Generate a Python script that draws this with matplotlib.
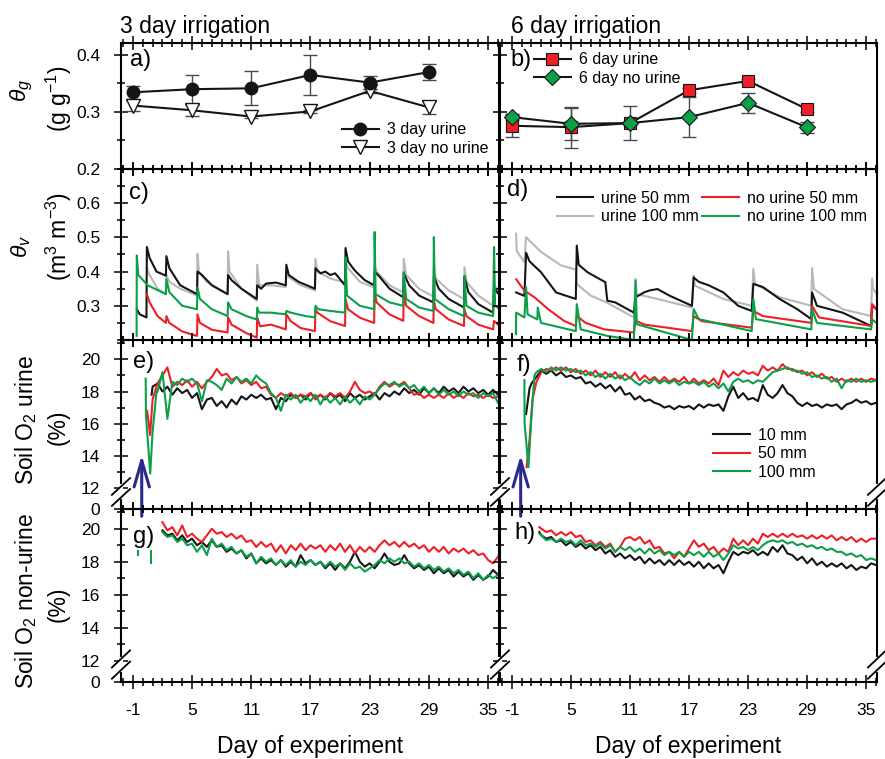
import numpy as np
import matplotlib
matplotlib.use("Agg")
import matplotlib.pyplot as plt
import matplotlib.transforms as mtransforms
from matplotlib.ticker import MultipleLocator

# ---- data: gravimetric water content (panels a, b) -----------------------
sample_days = [-1, 5, 11, 17, 23, 29]

urine_3d = [0.3345, 0.340, 0.3415, 0.365, 0.3515, 0.370]
urine_3d_err = [0.011, 0.0255, 0.030, 0.0355, 0.012, 0.014]
nourine_3d = [0.3113, 0.303, 0.292, 0.301, 0.337, 0.308]
nourine_3d_err = [0.010, 0.010, 0.003, 0.003, 0.003, 0.011]

urine_6d = [0.2758, 0.2734, 0.2805, 0.338, 0.3545, 0.305]
urine_6d_err = [0.020, 0.036, 0.004, 0.004, 0.004, 0.005]
nourine_6d = [0.291, 0.2793, 0.2805, 0.291, 0.316, 0.273]
nourine_6d_err = [0.005, 0.028, 0.030, 0.0355, 0.017, 0.009]

# ---- data: volumetric water content (panels c, d) ------------------------
c_urine50_days = [-0.6, -0.3, 0.38, 0.42, 0.7, 1.4, 2.35, 2.4, 2.7, 3.8, 5.5,
                  5.55, 6.0, 7.0, 8.6, 8.65, 9.0, 10.0, 11.55, 11.6, 12.0, 12.5,
                  13.5, 14.5, 14.55, 14.8, 15.8, 17.45, 17.5, 18.0, 18.5, 19.0,
                  19.5, 20.5, 20.55, 20.8, 21.3, 21.6, 22.5, 23.45, 23.5, 24.0,
                  25.0, 26.4, 26.45, 27.0, 28.0, 29.45, 29.5, 30.0, 31.0, 32.55,
                  32.6, 33.0, 34.0, 35.5, 35.6, 36.2]
c_urine50 = [0.29, 0.275, 0.266, 0.472, 0.44, 0.40, 0.388, 0.445, 0.41, 0.36, 0.334,
             0.40, 0.39, 0.36, 0.334, 0.39, 0.375, 0.35, 0.32, 0.36, 0.35, 0.365,
             0.368, 0.36, 0.42, 0.39, 0.37, 0.35, 0.41, 0.395, 0.40, 0.39,
             0.395, 0.36, 0.469, 0.43, 0.41, 0.40, 0.375, 0.36, 0.40, 0.385,
             0.35, 0.325, 0.395, 0.36, 0.33, 0.31, 0.385, 0.35, 0.32, 0.295,
             0.385, 0.34, 0.305, 0.28, 0.35, 0.33]

c_urine100_days = [0.42, 0.7, 1.5, 2.35, 2.4, 2.7, 3.8, 5.5, 5.55, 5.7, 6.5, 8.6,
                   8.65, 8.8, 10.0, 11.55, 11.6, 11.8, 13.0, 14.5, 14.55, 15.0,
                   16.0, 17.45, 17.5, 17.7, 19.0, 20.5, 20.55, 20.8, 22.0, 23.45,
                   23.5, 23.7, 25.0, 26.4, 26.45, 26.7, 28.0, 29.45, 29.5, 29.7,
                   31.0, 32.55, 32.6, 32.8, 34.0, 35.5, 35.6, 36.2]
c_urine100 = [0.41, 0.39, 0.35, 0.334, 0.39, 0.37, 0.35, 0.33, 0.452, 0.40, 0.37, 0.334,
              0.459, 0.40, 0.35, 0.315, 0.42, 0.36, 0.36, 0.355, 0.39, 0.38,
              0.36, 0.345, 0.437, 0.40, 0.38, 0.368, 0.43, 0.41, 0.37, 0.354,
              0.418, 0.40, 0.36, 0.339, 0.437, 0.39, 0.35, 0.327, 0.418, 0.38,
              0.345, 0.32, 0.413, 0.37, 0.33, 0.30, 0.36, 0.34]

c_nourine50_days = [0.42, 0.7, 1.5, 2.35, 2.4, 2.7, 4.0, 5.5, 5.55, 5.8, 7.0, 8.6,
                    8.65, 9.0, 10.5, 11.55, 11.6, 11.9, 13.0, 14.5, 14.55, 15.0,
                    16.0, 17.45, 17.5, 17.7, 19.0, 20.5, 20.55, 20.8, 22.0, 23.45,
                    23.5, 23.7, 25.0, 26.4, 26.45, 26.7, 28.0, 29.45, 29.5, 29.7,
                    31.0, 32.55, 32.6, 32.8, 34.0, 35.5, 35.6, 36.2]
c_nourine50 = [0.334, 0.31, 0.27, 0.25, 0.27, 0.25, 0.225, 0.212, 0.275, 0.25, 0.23, 0.222,
               0.266, 0.245, 0.22, 0.207, 0.266, 0.24, 0.245, 0.231, 0.275, 0.255,
               0.235, 0.226, 0.29, 0.28, 0.255, 0.241, 0.32, 0.29, 0.265, 0.25,
               0.344, 0.31, 0.275, 0.256, 0.339, 0.30, 0.27, 0.25, 0.315, 0.29,
               0.26, 0.241, 0.29, 0.27, 0.245, 0.231, 0.256, 0.24]

c_nourine100_days = [-0.62, -0.6, -0.45, 0.5, 2.35, 2.4, 2.7, 4.0, 5.5, 5.55, 5.8,
                     7.0, 8.6, 8.65, 9.0, 10.5, 11.55, 11.6, 11.8, 13.0, 14.5,
                     14.55, 15.0, 16.5, 17.45, 17.5, 17.8, 19.0, 20.5, 20.55, 20.7,
                     22.0, 23.45, 23.5, 23.6, 25.0, 26.4, 26.45, 26.7, 28.0, 29.45,
                     29.5, 29.6, 31.0, 32.55, 32.6, 32.8, 34.0, 35.5, 35.6, 35.7, 36.2]
c_nourine100 = [0.212, 0.447, 0.39, 0.36, 0.334, 0.378, 0.34, 0.30, 0.29, 0.354, 0.32,
                0.29, 0.27, 0.31, 0.29, 0.27, 0.26, 0.295, 0.28, 0.28, 0.275,
                0.285, 0.28, 0.27, 0.266, 0.30, 0.29, 0.285, 0.28, 0.442, 0.33,
                0.30, 0.29, 0.516, 0.334, 0.31, 0.30, 0.398, 0.32, 0.295, 0.285,
                0.501, 0.32, 0.29, 0.27, 0.388, 0.30, 0.28, 0.27, 0.472, 0.30, 0.29]

d_urine50_days = [-0.56, 0.28, 0.45, 0.8, 1.97, 3.5, 5.5, 5.6, 5.8, 6.7, 8.5, 8.7,
                  9.5, 11.4, 11.57, 12.5, 13.0, 13.8, 15.0, 17.3, 17.47, 18.0,
                  19.0, 20.5, 22.0, 23.37, 23.54, 24.5, 26.2, 28.0, 29.43, 29.5,
                  30.0, 32.6, 35.5, 35.6, 36.05]
d_urine50 = [0.339, 0.329, 0.455, 0.43, 0.398, 0.339, 0.32, 0.476, 0.42, 0.398, 0.369, 0.315,
             0.31, 0.28, 0.325, 0.34, 0.345, 0.349, 0.33, 0.30, 0.383, 0.37,
             0.36, 0.339, 0.30, 0.285, 0.364, 0.355, 0.32, 0.29, 0.261, 0.339,
             0.30, 0.28, 0.241, 0.30, 0.29]

d_urine100_days = [-0.56, -0.5, 0.28, 0.45, 0.8, 2.0, 4.0, 5.5, 5.6, 7.0, 8.6, 11.4,
                   11.57, 11.7, 13.8, 17.3, 17.47, 17.6, 20.5, 23.37, 23.54, 23.7,
                   26.2, 29.43, 29.5, 29.7, 32.6, 35.5, 35.6, 35.7, 36.05]
d_urine100 = [0.511, 0.46, 0.427, 0.501, 0.49, 0.457, 0.418, 0.406, 0.364, 0.33, 0.31, 0.266,
              0.378, 0.334, 0.32, 0.295, 0.388, 0.359, 0.32, 0.30, 0.408, 0.364,
              0.325, 0.30, 0.41, 0.349, 0.29, 0.27, 0.38, 0.35, 0.335]

d_nourine50_days = [-0.56, 0.28, 1.3, 2.7, 4.3, 5.5, 5.6, 6.5, 8.4, 11.4, 11.57, 12.5,
                    17.3, 17.47, 18.3, 23.37, 23.54, 24.5, 29.43, 29.5, 30.2, 35.5,
                    35.6, 36.05]
d_nourine50 = [0.378, 0.344, 0.325, 0.29, 0.256, 0.241, 0.27, 0.25, 0.231, 0.222, 0.256, 0.245,
               0.226, 0.27, 0.255, 0.236, 0.285, 0.27, 0.25, 0.30, 0.266, 0.241,
               0.305, 0.29]

d_nourine100_days = [-0.58, -0.56, 0.28, 0.45, 0.6, 1.6, 1.63, 1.97, 5.5, 5.6, 6.0,
                     8.7, 11.4, 11.57, 11.7, 17.3, 17.47, 18.0, 23.37, 23.54, 23.8,
                     29.43, 29.5, 30.0, 35.5, 35.6, 36.05]
d_nourine100 = [0.217, 0.28, 0.266, 0.354, 0.275, 0.26, 0.295, 0.25, 0.226, 0.305, 0.231,
                0.212, 0.20, 0.373, 0.246, 0.20, 0.29, 0.261, 0.226, 0.32, 0.261,
                0.231, 0.29, 0.25, 0.231, 0.26, 0.25]

# ---- data: soil O2 (panels e-h), half-day readings ------------------------
# urine, 3 day irrigation (e)
e_10mm_start, e_10mm_pre_days, e_10mm_pre = 1.0, [0.9], [17.8]
e_10mm = [18.3, 18.5, 18.0, 18.3, 17.8, 18.2, 17.9, 18.1, 17.6, 17.9,
          16.9, 17.5, 17.6, 17.1, 17.4, 17.0, 17.5, 17.2, 17.7, 17.5,
          17.8, 17.6, 17.8, 17.5, 17.6, 16.9, 17.6, 17.4, 17.8, 17.6,
          17.8, 17.5, 17.9, 17.6, 17.8, 17.5, 17.9, 17.6, 17.8, 17.4,
          17.9, 17.6, 17.8, 17.5, 17.7, 17.9, 17.5, 17.9, 17.7, 18.0,
          17.8, 18.2, 17.9, 18.1, 17.8, 18.2, 17.9, 18.2, 17.9, 18.3,
          18.0, 18.2, 17.9, 18.3, 18.0, 18.2, 17.9, 18.1, 17.8, 18.1,
          17.8]
e_50mm_start, e_50mm_pre_days, e_50mm_pre = 1.0, [0.45, 0.75], [16.8, 15.3]
e_50mm = [17.5, 18.5, 19.0, 19.5, 18.3, 18.6, 18.4, 18.7, 18.3, 18.6,
          18.2, 18.6, 18.9, 19.4, 19.0, 19.1, 18.7, 18.9, 18.5, 18.7,
          18.4, 18.6, 18.2, 18.3, 17.8, 17.6, 17.9, 17.7, 17.9, 17.6,
          17.8, 17.7, 17.9, 17.5, 17.8, 17.6, 17.9, 17.7, 17.9, 17.6,
          18.0, 18.6, 18.1, 17.9, 18.0, 17.8, 18.3, 18.6, 18.3, 18.5,
          18.4, 18.6, 18.2, 17.8, 17.9, 17.6, 17.8, 17.6, 17.8, 17.6,
          17.9, 17.6, 17.8, 17.6, 17.9, 17.7, 17.8, 17.6, 17.8, 17.6,
          17.7]
e_100mm_start = 1.5
e_100mm_pre_days, e_100mm_pre = [0.3, 0.33, 0.76, 1.0, 1.4], [18.8, 16.5, 12.9, 15.5, 18.0]
e_100mm = [18.0, 19.2, 16.3, 18.6, 18.4, 18.8, 18.6, 18.8, 18.5, 17.4,
           18.7, 18.6, 18.4, 18.1, 18.8, 18.5, 18.9, 18.6, 18.8, 18.5,
           19.0, 18.7, 18.5, 17.9, 17.6, 16.8, 17.8, 17.5, 17.8, 17.3,
           17.7, 17.4, 17.8, 17.2, 17.7, 17.3, 17.6, 17.2, 17.7, 17.3,
           17.6, 17.2, 17.7, 17.5, 17.8, 18.2, 18.5, 18.4, 18.6, 18.3,
           18.5, 18.2, 18.4, 18.0, 18.3, 17.9, 18.2, 17.8, 18.1, 17.8,
           18.0, 17.7, 18.0, 17.8, 17.9, 17.6, 17.9, 17.7, 17.9, 17.3]

# urine, 6 day irrigation (f)
f_10mm_start, f_10mm_pre_days, f_10mm_pre = 1.5, [0.45, 0.8, 1.0], [16.6, 18.2, 18.5]
f_10mm = [18.9, 19.3, 19.1, 19.3, 19.0, 19.2, 18.9, 19.0, 18.8, 18.9,
          18.5, 18.6, 18.3, 18.5, 18.2, 18.4, 18.0, 18.3, 17.8, 17.9,
          17.5, 17.7, 17.4, 17.5, 17.3, 17.2, 17.0, 17.1, 16.9, 17.1,
          17.0, 17.1, 16.9, 17.2, 17.0, 17.2, 17.1, 17.2, 16.8, 17.7,
          18.3, 17.6, 17.9, 17.5, 17.6, 17.4, 18.4, 17.8, 17.6, 17.9,
          18.4, 17.9, 17.7, 17.3, 17.1, 17.3, 17.1, 17.2, 17.0, 17.2,
          17.1, 17.2, 16.9, 17.2, 17.3, 17.5, 17.3, 17.4, 17.2, 17.3]
f_50mm_start, f_50mm_pre_days, f_50mm_pre = 1.5, [0.5, 0.8, 1.1], [13.3, 15.0, 17.5]
f_50mm = [18.6, 19.2, 19.4, 19.3, 19.5, 19.3, 19.5, 19.2, 19.4, 19.1,
          19.3, 19.0, 19.3, 18.9, 19.2, 18.9, 19.2, 18.8, 19.1, 18.8,
          19.2, 18.7, 19.0, 18.7, 18.9, 18.6, 18.9, 18.6, 18.8, 18.6,
          18.9, 18.5, 18.8, 18.5, 18.7, 18.5, 18.8, 18.4, 19.3, 18.9,
          19.2, 19.0, 19.3, 19.1, 19.2, 19.0, 19.6, 19.3, 19.5, 19.3,
          19.7, 19.4, 19.4, 19.2, 19.3, 19.0, 19.2, 18.9, 19.1, 18.8,
          18.9, 18.6, 18.8, 18.6, 18.8, 18.6, 18.8, 18.6, 18.8, 18.7]
f_100mm_start = 1.5
f_100mm_pre_days, f_100mm_pre = [0.28, 0.3, 0.69, 1.0, 1.3], [18.7, 16.0, 13.3, 16.5, 19.0]
f_100mm = [19.2, 19.4, 19.2, 19.5, 19.3, 19.5, 19.3, 19.4, 19.2, 19.3,
           19.0, 19.2, 18.9, 19.1, 18.8, 19.1, 18.8, 19.0, 18.7, 18.9,
           18.6, 18.4, 18.7, 18.5, 18.8, 18.5, 18.7, 18.5, 18.7, 18.4,
           18.6, 18.5, 18.6, 18.4, 18.6, 18.3, 18.5, 18.2, 18.5, 18.0,
           18.6, 18.8, 18.6, 18.7, 18.5, 18.7, 18.6, 18.9, 19.2, 19.3,
           19.4, 19.5, 19.3, 19.3, 19.1, 19.2, 18.9, 19.0, 18.8, 18.9,
           18.6, 18.8, 18.2, 18.7, 18.6, 18.8, 18.6, 18.7, 18.6, 18.7]

# non-urine, 3 day irrigation (g)
g_start = 2.0
g_10mm = [19.9, 19.6, 19.7, 19.3, 19.6, 19.2, 19.4, 19.0, 19.2, 18.9,
          19.3, 18.9, 19.0, 18.6, 18.8, 18.5, 18.7, 18.2, 18.5, 17.9,
          18.2, 17.9, 18.1, 17.8, 18.1, 17.7, 18.0, 17.7, 18.4, 17.9,
          18.1, 17.8, 18.0, 17.6, 17.9, 17.5, 17.9, 17.6, 18.0, 18.6,
          18.0, 17.7, 17.9, 17.6, 18.0, 18.5, 18.0, 17.8, 17.9, 18.4,
          17.9, 17.6, 17.8, 17.5, 17.7, 17.3, 17.6, 17.3, 17.5, 17.1,
          17.4, 17.1, 17.3, 16.9, 17.2, 16.9, 17.1, 17.5, 17.2]
g_50mm = [20.4, 19.9, 20.1, 19.6, 20.2, 19.5, 19.7, 19.4, 19.2, 19.6,
          20.0, 19.7, 19.8, 19.5, 19.7, 19.4, 19.6, 19.2, 19.3, 18.9,
          19.2, 18.9, 19.1, 18.6, 19.0, 18.5, 19.0, 18.7, 19.1, 18.7,
          19.0, 18.8, 19.0, 18.6, 19.0, 18.7, 19.1, 18.6, 19.0, 18.5,
          18.9, 18.6, 18.9, 18.6, 19.0, 19.3, 19.0, 19.2, 18.9, 19.2,
          18.9, 19.1, 18.8, 19.0, 18.6, 18.9, 18.6, 18.9, 18.5, 18.8,
          18.6, 18.8, 18.5, 18.7, 18.4, 18.5, 18.1, 17.9, 18.3]
g_100mm = [19.8, 19.5, 19.6, 19.2, 19.4, 19.0, 19.1, 18.6, 19.0, 18.4,
           19.4, 18.9, 19.1, 18.7, 18.9, 18.5, 18.7, 18.3, 18.5, 17.9,
           18.3, 18.0, 18.2, 17.8, 18.1, 17.8, 18.1, 17.7, 18.0, 17.8,
           18.1, 17.8, 18.0, 17.7, 18.0, 17.7, 17.9, 17.5, 17.9, 17.6,
           17.7, 17.4, 17.6, 17.8, 18.1, 17.9, 18.2, 18.0, 18.2, 17.9,
           18.0, 17.7, 17.9, 17.6, 17.8, 17.5, 17.7, 17.4, 17.6, 17.3,
           17.5, 17.2, 17.4, 17.0, 17.3, 16.9, 17.2, 17.0, 17.2]
g_100mm_stray_days = [-0.43, 0.82]
g_100mm_stray = [(18.63, 18.43), (18.63, 17.92)]

# non-urine, 6 day irrigation (h)
h_start, h_pre_day = 2.0, 1.8
h_10mm_pre, h_50mm_pre, h_100mm_pre = 19.8, 20.1, 19.7
h_10mm = [19.6, 19.4, 19.5, 19.2, 19.3, 19.0, 19.2, 18.9, 19.1, 18.8,
          19.0, 18.7, 18.9, 18.5, 18.7, 18.3, 18.5, 18.2, 18.4, 18.1,
          18.3, 17.9, 18.2, 17.9, 18.1, 17.8, 18.1, 17.8, 18.1, 17.8,
          18.0, 17.7, 18.0, 17.6, 17.9, 17.6, 17.8, 17.3, 18.0, 18.6,
          18.4, 18.6, 18.5, 18.7, 18.4, 18.6, 18.4, 18.9, 18.6, 19.0,
          18.5, 18.4, 18.1, 18.3, 17.9, 18.2, 17.8, 18.0, 17.7, 17.9,
          17.7, 17.9, 17.6, 17.8, 17.5, 17.7, 17.6, 17.9, 17.8]
h_50mm = [20.0, 19.8, 19.9, 19.6, 19.8, 19.6, 19.8, 19.5, 19.6, 19.2,
          19.3, 19.0, 19.2, 18.9, 19.1, 18.6, 18.9, 19.4, 19.5, 19.3,
          19.5, 19.1, 19.3, 18.8, 18.9, 18.5, 18.6, 18.2, 18.6, 18.3,
          18.8, 19.3, 18.9, 19.1, 18.7, 18.9, 18.5, 18.8, 18.6, 19.4,
          19.0, 19.3, 19.0, 19.4, 19.1, 19.7, 19.5, 19.7, 19.5, 19.7,
          19.5, 19.7, 19.5, 19.6, 19.4, 19.6, 19.4, 19.6, 19.4, 19.6,
          19.3, 19.5, 19.3, 19.5, 19.2, 19.4, 19.2, 19.4, 19.4]
h_100mm = [19.6, 19.3, 19.4, 19.2, 19.4, 19.2, 19.3, 19.0, 19.3, 19.0,
           19.1, 18.9, 19.1, 18.8, 19.0, 18.6, 18.9, 18.7, 18.9, 18.6,
           18.8, 18.5, 18.8, 18.5, 18.7, 18.4, 18.6, 18.4, 18.6, 18.3,
           18.6, 18.4, 18.6, 18.3, 18.6, 18.3, 18.5, 18.1, 18.5, 19.0,
           18.8, 18.9, 18.7, 18.9, 18.7, 19.0, 19.2, 19.3, 19.2, 19.3,
           19.1, 19.2, 19.0, 19.1, 18.9, 19.0, 18.8, 18.9, 18.7, 18.8,
           18.6, 18.6, 18.4, 18.5, 18.3, 18.4, 18.1, 18.2, 18.1]

urine_day = -0.1          # day urine was applied (blue arrows)
day_ticks = [-1, 5, 11, 17, 23, 29, 35]

# ---- style ---------------------------------------------------------------
plt.rcParams['font.family'] = ['Liberation Sans', 'DejaVu Sans']
plt.rcParams['mathtext.fontset'] = 'custom'
plt.rcParams['mathtext.rm'] = 'Liberation Sans'
plt.rcParams['mathtext.it'] = 'Liberation Sans:italic'
plt.rcParams['mathtext.bf'] = 'Liberation Sans:bold'
plt.rcParams['axes.unicode_minus'] = False

BLACK = '#151515'
GREY = '#b8b8b8'
RED = '#ee1f26'
GREEN = '#0b9f48'
BLUE = '#2a2a8e'
ERR = '#4a4a4a'

W, H = 885, 759
O2_ZERO = 10.7            # where the broken O2 axis puts its "0"
LEG = dict(frameon=False, fontsize=11.5, handlelength=2.3, handletextpad=0.5,
           labelspacing=0.22, borderpad=0, borderaxespad=0)


def px_axes(fig, left, top, right, bottom):
    ax = fig.add_axes([left / W, 1 - bottom / H, (right - left) / W, (bottom - top) / H])
    ax.set_facecolor('none')
    return ax


def halfday(start, vals, pre_days=(), pre_vals=()):
    days = np.concatenate([pre_days, start + 0.5 * np.arange(len(vals))])
    return days, np.concatenate([pre_vals, vals])


def style(ax, labelleft=True, labelbottom=False):
    for sp in ax.spines.values():
        sp.set_linewidth(1.5)
    ax.set_xlim(-2.2, 36.1)
    ax.set_xticks(day_ticks)
    ax.xaxis.set_minor_locator(MultipleLocator(1))
    ax.tick_params(which='both', direction='inout', top=True, right=False,
                   width=1.1, labelsize=12.5, labelleft=labelleft,
                   labelbottom=labelbottom, pad=10)
    ax.tick_params(which='major', length=10)
    ax.tick_params(which='minor', length=6)


def draw_break(ax, xa):
    trans = mtransforms.blended_transform_factory(ax.transAxes, ax.transData)
    ax.plot([xa, xa], [11.45, 12.1], color='white', lw=3, transform=trans,
            clip_on=False, zorder=6)
    for yc in (12.1, 11.42):
        ax.plot([xa - 0.024, xa + 0.024], [yc - 0.52, yc + 0.52], color='k', lw=1.3,
                transform=trans, clip_on=False, zorder=7)


def o2_axis(ax, labelleft, labelbottom, right_break):
    style(ax, labelleft, labelbottom)
    ax.set_ylim(O2_ZERO, 21.2)
    ax.set_yticks([O2_ZERO, 12, 14, 16, 18, 20])
    ax.set_yticklabels(['0', '12', '14', '16', '18', '20'])
    ax.set_yticks([13, 15, 17, 19, 21], minor=True)
    draw_break(ax, 0.0)
    if right_break:
        draw_break(ax, 1.0)


def main():
    fig = plt.figure(figsize=(W / 100, H / 100), dpi=100)

    cols = [(121, 499), (500, 877)]
    rows = [(43, 169), (169, 340), (340, 509), (509, 682)]
    axs = [[px_axes(fig, c[0], r[0], c[1], r[1]) for c in cols] for r in rows]
    ax_a, ax_b = axs[0]
    ax_c, ax_d = axs[1]
    ax_e, ax_f = axs[2]
    ax_g, ax_h = axs[3]

    # ---- a, b: gravimetric water content --------------------------------
    for ax, left in ((ax_a, True), (ax_b, False)):
        style(ax, labelleft=left)
        ax.set_ylim(0.2, 0.421)
        ax.set_yticks([0.2, 0.3, 0.4])
        ax.set_yticklabels(['0.2', '0.3', '0.4'])
        ax.yaxis.set_minor_locator(MultipleLocator(0.05))

    ax_a.errorbar(sample_days, urine_3d, yerr=urine_3d_err, fmt='none', ecolor=ERR,
                  elinewidth=1, capsize=5, capthick=1, zorder=2)
    ax_a.errorbar(sample_days, nourine_3d, yerr=nourine_3d_err, fmt='none', ecolor=ERR,
                  elinewidth=1, capsize=5, capthick=1, zorder=2)
    ax_a.plot(sample_days, urine_3d, '-o', color=BLACK, lw=1.5, ms=9,
              label='3 day urine', zorder=4)
    ax_a.plot(sample_days, nourine_3d, '-v', color=BLACK, mfc='white', mec=BLACK,
              mew=1, lw=1.5, ms=10, label='3 day no urine', zorder=3)
    ax_a.legend(loc='upper left', bbox_to_anchor=(0.585, 0.37), **LEG)

    ax_b.errorbar(sample_days, urine_6d, yerr=urine_6d_err, fmt='none', ecolor=ERR,
                  elinewidth=1, capsize=5, capthick=1, zorder=2)
    ax_b.errorbar(sample_days, nourine_6d, yerr=nourine_6d_err, fmt='none', ecolor=ERR,
                  elinewidth=1, capsize=5, capthick=1, zorder=2)
    ax_b.plot(sample_days, urine_6d, '-s', color=BLACK, mfc=RED, mec=BLACK,
              mew=0.8, lw=1.5, ms=8.5, label='6 day urine', zorder=3)
    ax_b.plot(sample_days, nourine_6d, '-D', color=BLACK, mfc=GREEN, mec=BLACK,
              mew=0.8, lw=1.5, ms=8, label='6 day no urine', zorder=4)
    ax_b.legend(loc='upper left', bbox_to_anchor=(0.09, 0.925), **LEG)

    # ---- c, d: volumetric water content ---------------------------------
    for ax, left in ((ax_c, True), (ax_d, False)):
        style(ax, labelleft=left)
        ax.set_ylim(0.2, 0.7)
        ax.set_yticks([0.3, 0.4, 0.5, 0.6])
        ax.set_yticklabels(['0.3', '0.4', '0.5', '0.6'])
        ax.yaxis.set_minor_locator(MultipleLocator(0.05))

    lw = 1.5
    ax_c.plot(c_urine100_days, c_urine100, color=GREY, lw=lw)
    ax_c.plot(c_urine50_days, c_urine50, color=BLACK, lw=lw)
    ax_c.plot(c_nourine50_days, c_nourine50, color=RED, lw=lw)
    ax_c.plot(c_nourine100_days, c_nourine100, color=GREEN, lw=lw)

    ax_d.plot(d_urine100_days, d_urine100, color=GREY, lw=lw, label='urine 100 mm')
    ax_d.plot(d_urine50_days, d_urine50, color=BLACK, lw=lw, label='urine 50 mm')
    ax_d.plot(d_nourine50_days, d_nourine50, color=RED, lw=lw, label='no urine 50 mm')
    ax_d.plot(d_nourine100_days, d_nourine100, color=GREEN, lw=lw, label='no urine 100 mm')
    handles, labels = ax_d.get_legend_handles_labels()
    order = [1, 0, 2, 3]
    ax_d.legend([handles[i] for i in order], [labels[i] for i in order], ncol=2,
                loc='upper left', bbox_to_anchor=(0.15, 0.872), columnspacing=0.2, **LEG)

    # ---- e-h: soil O2 -----------------------------------------------------
    o2_axis(ax_e, True, False, False)
    o2_axis(ax_f, False, False, True)
    o2_axis(ax_g, True, True, False)
    o2_axis(ax_h, False, True, True)

    ax_e.plot(*halfday(e_10mm_start, e_10mm, e_10mm_pre_days, e_10mm_pre), color=BLACK, lw=lw)
    ax_e.plot(*halfday(e_50mm_start, e_50mm, e_50mm_pre_days, e_50mm_pre), color=RED, lw=lw)
    ax_e.plot(*halfday(e_100mm_start, e_100mm, e_100mm_pre_days, e_100mm_pre), color=GREEN, lw=lw)

    ax_f.plot(*halfday(f_10mm_start, f_10mm, f_10mm_pre_days, f_10mm_pre),
              color=BLACK, lw=lw, label='10 mm')
    ax_f.plot(*halfday(f_50mm_start, f_50mm, f_50mm_pre_days, f_50mm_pre),
              color=RED, lw=lw, label='50 mm')
    ax_f.plot(*halfday(f_100mm_start, f_100mm, f_100mm_pre_days, f_100mm_pre),
              color=GREEN, lw=lw, label='100 mm')
    ax_f.legend(loc='upper left', bbox_to_anchor=(0.565, 0.48), **LEG)

    ax_g.plot(*halfday(g_start, g_10mm), color=BLACK, lw=lw)
    ax_g.plot(*halfday(g_start, g_50mm), color=RED, lw=lw)
    ax_g.plot(*halfday(g_start, g_100mm), color=GREEN, lw=lw)
    for d, seg in zip(g_100mm_stray_days, g_100mm_stray):
        ax_g.plot([d, d], seg, color=GREEN, lw=lw)

    ax_h.plot(*halfday(h_start, h_10mm, [h_pre_day], [h_10mm_pre]), color=BLACK, lw=lw)
    ax_h.plot(*halfday(h_start, h_50mm, [h_pre_day], [h_50mm_pre]), color=RED, lw=lw)
    ax_h.plot(*halfday(h_start, h_100mm, [h_pre_day], [h_100mm_pre]), color=GREEN, lw=lw)

    # urine application arrows
    for ax in (ax_e, ax_f):
        ax.annotate('', xy=(urine_day, 14.05), xytext=(urine_day, 10.25),
                    arrowprops=dict(arrowstyle='->,head_length=1.9,head_width=0.55',
                                    color=BLUE, lw=2.2, shrinkA=0, shrinkB=0),
                    annotation_clip=False, zorder=8)

    # ---- panel letters ------------------------------------------------------
    letters = [(ax_a, 'a)', 0.024, 0.865), (ax_b, 'b)', 0.028, 0.865),
               (ax_c, 'c)', 0.020, 0.86), (ax_d, 'd)', 0.018, 0.877),
               (ax_e, 'e)', 0.032, 0.87), (ax_f, 'f)', 0.045, 0.85),
               (ax_g, 'g)', 0.032, 0.838), (ax_h, 'h)', 0.038, 0.86)]
    for ax, s, x, y in letters:
        ax.text(x, y, s, transform=ax.transAxes, fontsize=17, ha='left', va='center')

    # ---- titles and axis labels -------------------------------------------
    fig.text(120 / W, 1 - 27 / H, '3 day irrigation', fontsize=16.5, ha='left', va='center')
    fig.text(511 / W, 1 - 27 / H, '6 day irrigation', fontsize=16.5, ha='left', va='center')
    fig.text(310 / W, 1 - 747 / H, 'Day of experiment', fontsize=16.5, ha='center', va='center')
    fig.text(688 / W, 1 - 747 / H, 'Day of experiment', fontsize=16.5, ha='center', va='center')

    ylabels = [(22, 90, r'$\theta_g$', 59, 99, '(g g$^{-1}$)'),
               (21, 246, r'$\theta_v$', 59, 236, '(m$^3$ m$^{-3}$)'),
               (26, 420, 'Soil O$_2$ urine', 58, 427, '(%)'),
               (26, 601, 'Soil O$_2$ non-urine', 58, 604, '(%)')]
    for x1, y1, s1, x2, y2, s2 in ylabels:
        fig.text(x1 / W, 1 - y1 / H, s1, fontsize=16.5, rotation=90, ha='center', va='center')
        fig.text(x2 / W, 1 - y2 / H, s2, fontsize=16.5, rotation=90, ha='center', va='center')

    fig.savefig('out.png', dpi=100)


if __name__ == "__main__":
    main()
